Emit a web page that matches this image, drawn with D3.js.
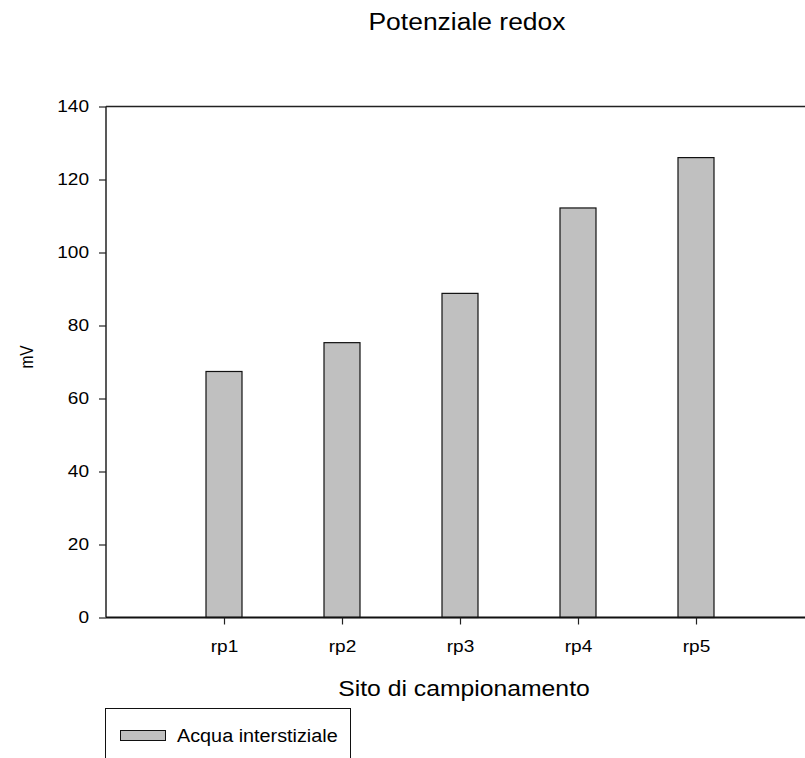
<!DOCTYPE html>
<html>
<head>
<meta charset="utf-8">
<script src="https://cdn.jsdelivr.net/npm/d3@7"></script>
<style>
  body { margin: 0; background: #fff; }
  svg { display: block; font-family: "Liberation Sans", Arial, sans-serif; }
</style>
</head>
<body>
<svg id="chart" width="805" height="758"></svg>
<script>
const sites = ["rp1", "rp2", "rp3", "rp4", "rp5"];
const redox = [67.4, 75.3, 88.8, 112.2, 126.0];
const yTicks = [0, 20, 40, 60, 80, 100, 120, 140];
const seriesName = "Acqua interstiziale";

const plotL = 106, plotR = 814, plotT = 106.5, plotB = 617.5;
const svg = d3.select("#chart");

// the original picture is a bit wider than tall, so widen text to match
const stretch = function(sel, s) {
  sel.each(function() {
    let w = this.getComputedTextLength();
    d3.select(this).attr("textLength", w * s).attr("lengthAdjust", "spacingAndGlyphs");
  });
};

const x = d3.scalePoint().domain(sites).range([plotL, plotR]).padding(1);
const y = d3.scaleLinear().domain([0, 140]).range([plotB, plotT]);
const barW = 36;

// bars
svg.append("g").selectAll("rect")
  .data(sites)
  .enter().append("rect")
    .attr("x", (d, i) => x(d) - barW / 2)
    .attr("y", (d, i) => y(redox[i]))
    .attr("width", barW)
    .attr("height", (d, i) => y(0) - y(redox[i]))
    .attr("fill", "#c0c0c0")
    .attr("stroke", "#111")
    .attr("stroke-width", 1.2);

// top frame line
svg.append("line").attr("x1", plotL).attr("x2", plotR).attr("y1", plotT).attr("y2", plotT)
  .attr("stroke", "#222").attr("stroke-width", 1.5);

let yAxis = d3.axisLeft(y).tickValues(yTicks).tickSize(7).tickPadding(10);
let gy = svg.append("g").attr("transform", `translate(${plotL},0)`).call(yAxis);
gy.select(".domain").attr("d", `M0,${plotT}V${plotB}`).attr("stroke", "#222").attr("stroke-width", 1.5);
gy.selectAll(".tick line").attr("stroke", "#222").attr("stroke-width", 1.2);
gy.selectAll("text").attr("font-size", 17).attr("fill", "#000")
  .attr("font-family", "Liberation Sans, Arial, sans-serif").call(stretch, 1.12);

let xAxis = d3.axisBottom(x).tickSize(7).tickPadding(15);
let gx = svg.append("g").attr("transform", `translate(0,${plotB})`).call(xAxis);
gx.select(".domain").attr("d", `M${plotL},0H${plotR}`).attr("stroke", "#111").attr("stroke-width", 2);
gx.selectAll(".tick line").attr("stroke", "#222").attr("stroke-width", 1.2);
gx.selectAll("text").attr("font-size", 17).attr("fill", "#000")
  .attr("font-family", "Liberation Sans, Arial, sans-serif").call(stretch, 1.12);

// titles
svg.append("text").attr("x", 467).attr("y", 30).attr("text-anchor", "middle")
  .attr("font-size", 23).text("Potenziale redox").call(stretch, 1.15);
svg.append("text").attr("x", 464).attr("y", 696).attr("text-anchor", "middle")
  .attr("font-size", 21.5).text("Sito di campionamento").call(stretch, 1.15);
svg.append("text").attr("transform", "translate(33,357) rotate(-90)").attr("text-anchor", "middle")
  .attr("font-size", 18).text("mV").call(stretch, 0.86);

// legend
let lg = svg.append("g");
lg.append("rect").attr("x", 105.5).attr("y", 708.5).attr("width", 245).attr("height", 60)
  .attr("fill", "none").attr("stroke", "#111").attr("stroke-width", 1);
lg.append("rect").attr("x", 120.5).attr("y", 730.5).attr("width", 45).attr("height", 10)
  .attr("fill", "#c0c0c0").attr("stroke", "#111").attr("stroke-width", 1);
lg.append("text").attr("x", 177).attr("y", 742).attr("font-size", 18).text(seriesName).call(stretch, 1.1);
</script>
</body>
</html>
